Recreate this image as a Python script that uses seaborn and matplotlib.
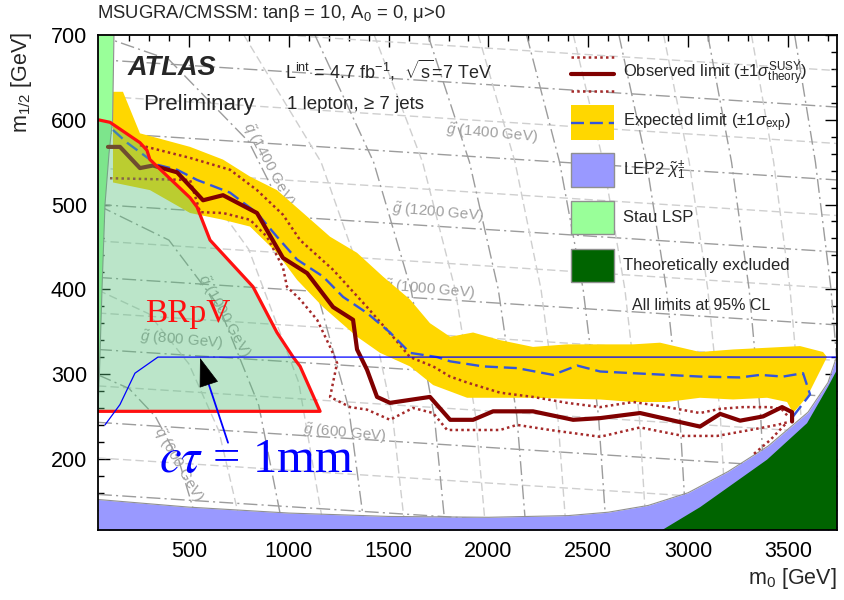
import numpy as np
import pandas as pd
import matplotlib
matplotlib.use("Agg")
import matplotlib.pyplot as plt
import seaborn as sns
from matplotlib.patches import Rectangle

# ---------------- data (m0 [GeV], m1/2 [GeV]) ----------------
x_range = [45, 3745]
y_range = [116, 700]
x_ticks = [500, 1000, 1500, 2000, 2500, 3000, 3500]
y_ticks = [200, 300, 400, 500, 600, 700]

# expected +-1 sigma band (upper edge left->right, lower edge right->left)
band_m0 = [120, 170, 255, 506, 671, 806, 941, 1072, 1207, 1342, 1472, 1607, 1707, 1808, 1923,
           2058, 2223, 2393, 2559, 2724, 2859, 3059, 3225, 3395, 3560, 3675, 3695, 3595,
           3525, 3495, 3395, 3225, 3059, 2894, 2724, 2559, 2223, 1893, 1723, 1607, 1457,
           1342, 1172, 1042, 941, 806, 671, 506, 305, 120]
band_m12 = [633, 633, 584, 568, 553, 533, 517, 490, 462, 443, 415, 388, 360, 344, 349,
            340, 332, 335, 335, 335, 337, 326, 329, 331, 333, 326, 320, 273,
            254, 267, 272, 270, 272, 267, 267, 270, 272, 272, 287, 309, 325,
            344, 379, 411, 443, 474, 482, 490, 517, 526]

# expected limit
exp_m0 = [120, 190, 340, 441, 541, 706, 841, 941, 1042, 1172, 1272, 1392, 1507, 1607, 1743,
          1808, 1973, 2143, 2323, 2444, 2559, 2724, 2894, 3059, 3260, 3360, 3475, 3575, 3610, 3525]
exp_m12 = [588, 573, 547, 541, 529, 514, 490, 462, 435, 415, 391, 372, 349, 325, 320,
           315, 309, 307, 299, 310, 303, 301, 299, 297, 296, 299, 297, 301, 276, 250]

# observed limit
obs_m0 = [95, 155, 255, 320, 441, 571, 671, 841, 971, 1092, 1222, 1322, 1342, 1392, 1442, 1507,
          1707, 1808, 1923, 2023, 2223, 2424, 2559, 2759, 3059, 3160, 3260, 3375, 3470, 3520, 3520]
obs_m12 = [568, 568, 543, 546, 538, 505, 511, 490, 437, 419, 379, 364, 329, 305, 273, 266,
           273, 246, 246, 256, 256, 246, 248, 254, 238, 253, 245, 250, 261, 255, 244]

# observed +1 sigma (theory)
obs_up_m0 = [255, 506, 706, 841, 971, 1057, 1222, 1392, 1522, 1607, 1723, 1808, 1893, 2058, 2223,
             2393, 2559, 2724, 2894, 3059, 3160, 3275, 3410, 3470, 3500]
obs_up_m12 = [570, 555, 541, 517, 488, 458, 423, 379, 344, 320, 309, 297, 290, 278, 273,
              266, 261, 267, 261, 254, 259, 261, 261, 258, 250]

# observed -1 sigma (theory)
obs_lo_m0 = [105, 506, 556, 671, 806, 891, 971, 991, 1057, 1142, 1207, 1242, 1207, 1307, 1392, 1507,
             1622, 1723, 1793, 2058, 2143, 2308, 2559, 2759, 2974, 3145, 3310, 3445, 3495, 3410, 3325]
obs_lo_m12 = [531, 529, 491, 490, 482, 462, 426, 403, 388, 364, 332, 313, 273, 261, 258, 246,
              260, 254, 234, 234, 240, 234, 226, 237, 227, 227, 234, 240, 243, 222, 205]

# BRpV excluded region
brpv_m0 = [45, 105, 255, 290, 305, 506, 541, 606, 821, 941, 1022, 1057, 1157, 45]
brpv_m12 = [600, 597, 573, 564, 553, 508, 497, 458, 403, 349, 320, 309, 256, 256]

# c tau = 1 mm contour
ctau_m0 = [80, 155, 230, 345, 3745]
ctau_m12 = [240, 264, 301, 320, 320]

# LEP2 chargino limit (upper edge)
lep_m0 = [45, 500, 1000, 1500, 2000, 2400, 2600, 2800, 3000, 3200, 3400, 3600, 3700, 3745]
lep_m12 = [152, 143, 136, 132, 131, 133, 137, 145, 160, 185, 215, 255, 290, 322]

# theoretically excluded (left edge)
theo_m0 = [2870, 3060, 3395, 3595, 3700, 3745]
theo_m12 = [116, 143, 199, 242, 285, 305]

# stau LSP region (right edge)
stau_m0 = [45, 125, 118, 100, 80, 65, 52, 45]
stau_m12 = [700, 700, 600, 560, 500, 400, 300, 260]

# gluino iso-mass lines: m1/2 at left and right edge
gl_mass = [400, 500, 600, 700, 800, 900, 1000, 1100, 1200, 1300, 1400, 1500, 1600, 1700, 1800, 1900]
gl_left = [158, 201, 243, 286, 329, 372, 414, 457, 500, 543, 585, 628, 671, 714, 756, 799]
gl_right = [102, 145, 187, 230, 273, 316, 358, 401, 444, 487, 529, 572, 615, 658, 700, 743]

# squark iso-mass lines
sq_mass = [600, 800, 1000, 1200, 1400, 1600, 1800, 2000, 2200, 2400, 2600, 2800, 3000, 3200, 3400, 3600, 3800]
sq_m0 = [[45, 200, 332, 450, 553],
         [45, 300, 500, 650, 766],
         [45, 400, 650, 850, 973],
         [45, 500, 800, 1050, 1177],
         [45, 400, 800, 1100, 1300, 1381],
         [775, 1162, 1386, 1520, 1583],
         [1131, 1425, 1612, 1729, 1785],
         [1428, 1670, 1833, 1936, 1986],
         [1697, 1905, 2049, 2142, 2188],
         [1949, 2133, 2263, 2347, 2389],
         [2191, 2356, 2474, 2551, 2590],
         [2425, 2575, 2683, 2755, 2790],
         [2653, 2791, 2891, 2958, 2991],
         [2877, 3005, 3098, 3161, 3192],
         [3098, 3217, 3305, 3363, 3392],
         [3317, 3428, 3510, 3565, 3592],
         [3533, 3637, 3715, 3767, 3796]]
sq_m12 = [[299, 283, 250, 198, 116],
          [399, 371, 312, 233, 116],
          [499, 458, 380, 263, 116],
          [600, 545, 447, 290, 116],
          [700, 671, 574, 433, 260, 116]] + [[700, 550, 400, 250, 116]] * 12

# mass labels
gl_labels = ["600", "800", "1000", "1200", "1400"]
gl_label_m0 = [1282, 466, 1702, 1748, 2018]
gl_label_m12 = [230, 340, 400, 490, 584]
sq_labels = ["600", "1000", "1400"]
sq_label_m0 = [446, 676, 896]
sq_label_m12 = [193, 369, 547]

# ---------------- styling ----------------
sns.set_theme(style="ticks")
plt.rcParams['font.family'] = ['Liberation Sans', 'DejaVu Sans']
plt.rcParams['mathtext.fontset'] = 'custom'
plt.rcParams['mathtext.rm'] = 'Liberation Sans'
plt.rcParams['mathtext.it'] = 'Liberation Sans:italic'
plt.rcParams['mathtext.bf'] = 'Liberation Sans:bold'

C_OBS = '#800000'
C_DOT = '#a52a2a'
C_EXP = '#3355dd'
C_BAND = '#ffd700'
C_LEP = '#9999ff'
C_STAU = '#99ff99'
C_THEO = '#006400'
C_GRID1 = '#9c9c9c'
C_GRID2 = '#cfcfcf'

fig = plt.figure(figsize=(8.44, 6.0), dpi=100)
ax = fig.add_axes([98 / 844, 70 / 600, 739 / 844, 495 / 600])
ax.set_xlim(*x_range)
ax.set_ylim(*y_range)

dashdot = (0, (10, 3, 1.5, 3))
dashed = (0, (6, 3))

# gluino lines
for m, yl, yr in zip(gl_mass, gl_left, gl_right):
    major = (m % 200 == 0)
    ax.plot(x_range, [yl, yr], color=C_GRID1 if major else C_GRID2,
            ls=dashdot if major else dashed, lw=1.0, zorder=1)
# squark lines
for m, xs, ys in zip(sq_mass, sq_m0, sq_m12):
    major = ((m - 600) % 400 == 0)
    ax.plot(xs, ys, color=C_GRID1 if major else C_GRID2,
            ls=dashdot if major else dashed, lw=1.0, zorder=1)

for t, x, y in zip(gl_labels, gl_label_m0, gl_label_m12):
    ax.text(x, y, r"$\tilde{g}$ (" + t + " GeV)", color='#a0a0a0', fontsize=11,
            rotation=-5, ha='center', va='center', zorder=1.5)
for t, x, y, r in zip(sq_labels, sq_label_m0, sq_label_m12, [-60, -61, -62]):
    ax.text(x, y, r"$\tilde{q}$ (" + t + " GeV)", color='#a0a0a0', fontsize=11,
            rotation=r, ha='center', va='center', zorder=1.5)

# expected band
ax.fill(band_m0, band_m12, color=C_BAND, lw=0, zorder=2)

# LEP, theoretically excluded, stau
ax.fill_between(lep_m0, y_range[0], lep_m12, color=C_LEP, lw=0, zorder=3)
ax.plot(lep_m0, lep_m12, color='#909090', lw=0.8, zorder=3.1)
ax.fill(theo_m0 + [x_range[1]], theo_m12 + [y_range[0]], color=C_THEO, lw=0, zorder=3.2)
ax.fill(stau_m0, stau_m12, color=C_STAU, lw=0, zorder=3)
ax.plot(stau_m0[1:], stau_m12[1:], color='#909090', lw=0.8, zorder=3.1)

# limit curves with seaborn
sns.lineplot(x=obs_up_m0, y=obs_up_m12, sort=False, estimator=None, ax=ax, color=C_DOT,
             lw=1.8, ls=(0, (1, 1.3)), zorder=4)
sns.lineplot(x=obs_lo_m0, y=obs_lo_m12, sort=False, estimator=None, ax=ax, color=C_DOT,
             lw=1.8, ls=(0, (1, 1.3)), zorder=4)
sns.lineplot(x=exp_m0, y=exp_m12, sort=False, estimator=None, ax=ax, color=C_EXP,
             lw=1.7, ls=(0, (5.5, 2.5)), zorder=5)
sns.lineplot(x=obs_m0, y=obs_m12, sort=False, estimator=None, ax=ax, color=C_OBS,
             lw=3.0, zorder=5)

# BRpV region
ax.fill(brpv_m0, brpv_m12, color='#55c07a', alpha=0.4, lw=0, zorder=6)
sns.lineplot(x=brpv_m0, y=brpv_m12, sort=False, estimator=None, ax=ax, color='#ff1010',
             lw=2.3, zorder=7)
ax.text(496, 371, "BRpV", color='#ff1010', fontsize=24, family='Liberation Serif',
        ha='center', va='center', zorder=8)

# c tau contour + annotation
sns.lineplot(x=ctau_m0, y=ctau_m12, sort=False, estimator=None, ax=ax, color='#0000ff',
             lw=0.9, zorder=7)
ax.annotate('', xy=(598, 289), xytext=(696, 219),
            arrowprops=dict(arrowstyle='-', color='#0000ff', lw=1.3, shrinkA=0, shrinkB=0), zorder=8)
ax.annotate('', xy=(556, 319), xytext=(598, 289),
            arrowprops=dict(arrowstyle='-|>,head_length=1.6,head_width=0.55', color='black',
                            lw=0.5, shrinkA=0, shrinkB=0, mutation_scale=12), zorder=8)
ax.text(836, 198, r"$c\tau$ = 1mm", color='#0000ff', fontsize=35, family='Liberation Serif',
        math_fontfamily='stix', ha='center', va='center', zorder=8)

# ---------------- axes ----------------
ax.set_xticks(x_ticks)
ax.set_yticks(y_ticks)
ax.xaxis.set_minor_locator(matplotlib.ticker.MultipleLocator(100))
ax.yaxis.set_minor_locator(matplotlib.ticker.MultipleLocator(20))
ax.tick_params(which='both', direction='in', top=True, right=True, width=1.0, color='black',
               labelsize=15.5, labelcolor='black', pad=8)
ax.tick_params(which='major', length=8.5)
ax.tick_params(which='minor', length=4.3)
for s in ax.spines.values():
    s.set_linewidth(1.3)
    s.set_color('black')
    s.set_zorder(10)

ax.set_xlabel(r"m$_0$ [GeV]", fontsize=15.5, loc='right')
ax.xaxis.set_label_coords(1.0, -0.097)
ax.xaxis.label.set_va('center')
ax.set_ylabel(r"m$_{1/2}$ [GeV]", fontsize=15.5)
ax.yaxis.label.set_ha('center')
ax.yaxis.label.set_va('center')
ax.yaxis.set_label_coords(-0.104, 0.905)

fig.text(97 / 844, 1 - 14 / 600, r"MSUGRA/CMSSM: tanβ = 10, A$_0$ = 0, μ>0", fontsize=13.3,
         ha='left', va='center')

# in-plot texts (axes fraction)
T = ax.transAxes
ax.text(0.0406, 0.9333, "ATLAS", fontsize=19.5, weight='bold', style='italic', transform=T,
        ha='left', va='center', zorder=9)
ax.text(0.0609, 0.8606, "Preliminary", fontsize=16, transform=T, ha='left', va='center', zorder=9)
ax.text(0.253, 0.929, r"L$^{\rm int}$ = 4.7 fb$^{-1}$,  $\sqrt{\rm s}$=7 TeV", fontsize=13,
        transform=T, ha='left', va='center', zorder=9)
ax.text(0.2558, 0.8606, "1 lepton, ≥ 7 jets", fontsize=13.5, transform=T, ha='left',
        va='center', zorder=9)

# legend (manual)
lx0, lx1, tx = 0.640, 0.698, 0.7104
ax.plot([lx0, lx1], [0.9556, 0.9556], transform=T, color=C_DOT, lw=1.8, ls=(0, (1, 1.3)), zorder=9)
ax.plot([lx0, lx1], [0.9212, 0.9212], transform=T, color=C_OBS, lw=3.0, zorder=9)
ax.plot([lx0, lx1], [0.8869, 0.8869], transform=T, color=C_DOT, lw=1.8, ls=(0, (1, 1.3)), zorder=9)
ax.text(tx, 0.9212, r"Observed limit ($\pm$1$\sigma^{\rm SUSY}_{\rm theory}$)", fontsize=12,
        transform=T, ha='left', va='center', zorder=9)

ax.add_patch(Rectangle((lx0, 0.7879), lx1 - lx0, 0.0707, transform=T, facecolor=C_BAND,
                       edgecolor='none', zorder=9))
ax.plot([lx0, lx1], [0.8232, 0.8232], transform=T, color=C_EXP, lw=1.7, ls=(0, (5.5, 2.5)), zorder=9.5)
ax.text(tx, 0.8232, r"Expected limit ($\pm$1$\sigma_{\rm exp}$)", fontsize=12,
        transform=T, ha='left', va='center', zorder=9)

for (y0, y1), fc, lab in zip([(0.6929, 0.7616), (0.5980, 0.6646), (0.5010, 0.5677)],
                             [C_LEP, C_STAU, C_THEO],
                             [r"LEP2 $\tilde{\chi}^{\pm}_{1}$", "Stau LSP", "Theoretically excluded"]):
    ax.add_patch(Rectangle((lx0, y0), lx1 - lx0, y1 - y0, transform=T, facecolor=fc,
                           edgecolor='#909090', lw=1.0, zorder=9))
    ax.text(tx, (y0 + y1) / 2, lab, fontsize=12, transform=T, ha='left', va='center', zorder=9)

ax.text(0.816, 0.4545, "All limits at 95% CL", fontsize=11.5, transform=T, ha='center',
        va='center', zorder=9)

fig.savefig("out.png", dpi=100)
